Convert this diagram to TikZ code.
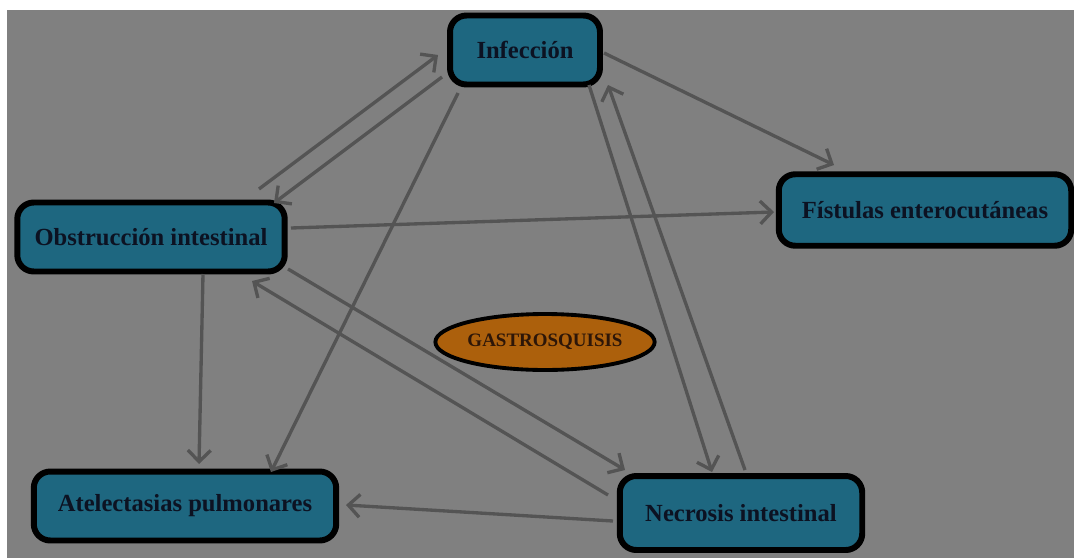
\documentclass[tikz,border=0pt]{standalone}
\usepackage{fontspec}
\setmainfont{Liberation Serif}
\usetikzlibrary{arrows.meta,shapes.geometric}
\definecolor{bggray}{RGB}{128,128,128}
\definecolor{boxteal}{RGB}{30,103,128}
\definecolor{boxtext}{RGB}{12,18,34}
\definecolor{eggfill}{RGB}{172,96,12}
\definecolor{eggtext}{RGB}{45,22,8}
\definecolor{arrgray}{RGB}{84,84,84}
\begin{document}
\begin{tikzpicture}[x=0.02cm, y=-0.02cm, font=\fontsize{14}{16}\selectfont\bfseries]
     \tikzstyle{boxnode}=[draw=black, line width=3.4pt, fill=boxteal, text=boxtext, rounded corners=0.33cm, minimum height=1.38cm, inner xsep=0pt]
     \tikzstyle{eggnode}=[ellipse, draw=black, line width=2.2pt, fill=eggfill, text=eggtext, minimum width=4.1cm, minimum height=1.12cm, inner sep=0pt, font=\fontsize{10.8}{12}\selectfont\bfseries]
     \tikzstyle{arr}=[draw=arrgray, line width=1.9pt, -{Straight Barb[length=6.5pt,width=13pt]}]
     \useasboundingbox (0,0) rectangle (1074,558);
     \fill[bggray] (7,10) rectangle (1074,558);
     \node[boxnode, minimum width=3.0cm] (inf) at (525,50) {Infección};
     \node[boxnode, minimum width=5.85cm, minimum height=1.43cm] (fis) at (925,210) {Fístulas enterocutáneas};
     \node[boxnode, minimum width=5.35cm] (obs) at (151,237) {Obstrucción intestinal};
     \node[boxnode, minimum width=6.05cm] (atl) at (185,506) {Atelectasias pulmonares};
     \node[boxnode, minimum width=4.85cm, minimum height=1.48cm] (nec) at (741,513) {Necrosis intestinal};
     \node[eggnode] (gas) at (545,342) {GASTROSQUISIS};
     \draw[arr] ([shift={(108,-48)}]obs.center) -- ([shift={(-87,5)}]inf.center);
     \draw[arr] ([shift={(-83,27)}]inf.center) -- ([shift={(123,-34)}]obs.center);
     \draw[arr] ([shift={(-67,43)}]inf.center) -- ([shift={(86,-34)}]atl.center);
     \draw[arr] ([shift={(79,3)}]inf.center) -- ([shift={(-91,-45)}]fis.center);
     \draw[arr] ([shift={(64,35)}]inf.center) -- ([shift={(-29,-41)}]nec.center);
     \draw[arr] ([shift={(4,-43)}]nec.center) -- ([shift={(83,35)}]inf.center);
     \draw[arr] ([shift={(140,-9)}]obs.center) -- ([shift={(-151,2)}]fis.center);
     \draw[arr] ([shift={(52,37)}]obs.center) -- ([shift={(14,-42)}]atl.center);
     \draw[arr] ([shift={(137,32)}]obs.center) -- ([shift={(-116,-43)}]nec.center);
     \draw[arr] ([shift={(-133,-18)}]nec.center) -- ([shift={(101,44)}]obs.center);
     \draw[arr] ([shift={(-128,8)}]nec.center) -- ([shift={(161,-1)}]atl.center);
    \end{tikzpicture}
\end{document}
